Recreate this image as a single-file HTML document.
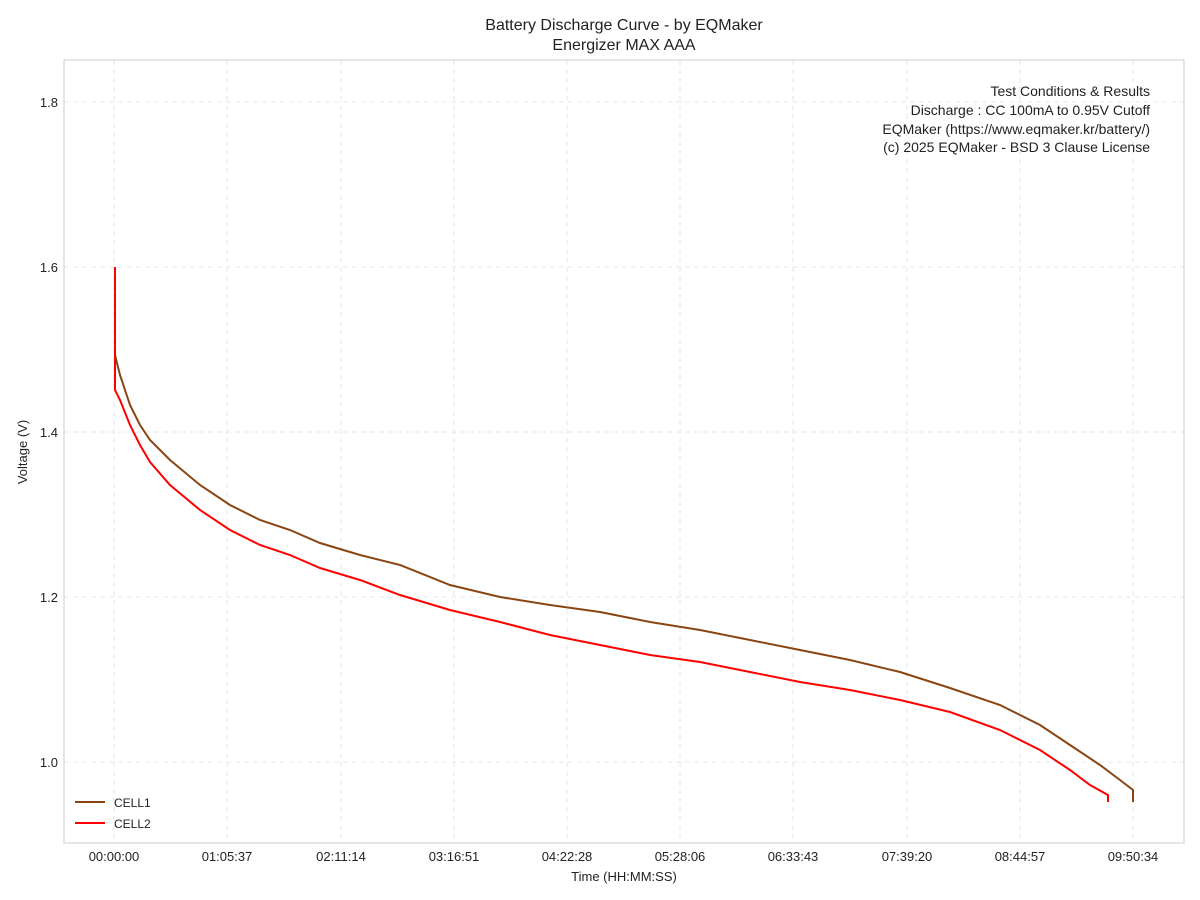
<!DOCTYPE html>
<html><head><meta charset="utf-8"><style>body{margin:0;background:#fff}svg{display:block;font-family:"Liberation Sans",sans-serif}</style></head><body>
<svg width="1200" height="900" xmlns="http://www.w3.org/2000/svg">
<rect width="1200" height="900" fill="#fff"/>
<g stroke="#e0e0e0" stroke-dasharray="5,4" stroke-width="0.8">
<line x1="64" x2="1184" y1="102" y2="102"/><line x1="64" x2="1184" y1="267" y2="267"/><line x1="64" x2="1184" y1="432" y2="432"/><line x1="64" x2="1184" y1="597" y2="597"/><line x1="64" x2="1184" y1="762" y2="762"/>
<line y1="60" y2="843" x1="114" x2="114"/><line y1="60" y2="843" x1="227" x2="227"/><line y1="60" y2="843" x1="341" x2="341"/><line y1="60" y2="843" x1="454" x2="454"/><line y1="60" y2="843" x1="567" x2="567"/><line y1="60" y2="843" x1="680" x2="680"/><line y1="60" y2="843" x1="793" x2="793"/><line y1="60" y2="843" x1="907" x2="907"/><line y1="60" y2="843" x1="1020" x2="1020"/><line y1="60" y2="843" x1="1133" x2="1133"/>
</g>
<rect x="64" y="60" width="1120" height="783" fill="none" stroke="#ccc" stroke-width="1"/>
<g font-size="13" fill="#222" text-anchor="end">
<text x="58" y="107">1.8</text><text x="58" y="272">1.6</text><text x="58" y="437">1.4</text><text x="58" y="602">1.2</text><text x="58" y="767">1.0</text>
</g>
<g font-size="13" fill="#222" text-anchor="middle">
<text x="114" y="861">00:00:00</text><text x="227" y="861">01:05:37</text><text x="341" y="861">02:11:14</text><text x="454" y="861">03:16:51</text><text x="567" y="861">04:22:28</text><text x="680" y="861">05:28:06</text><text x="793" y="861">06:33:43</text><text x="907" y="861">07:39:20</text><text x="1020" y="861">08:44:57</text><text x="1133" y="861">09:50:34</text>
<text x="624" y="881">Time (HH:MM:SS)</text>
<text x="624" y="30" font-size="16">Battery Discharge Curve - by EQMaker</text>
<text x="624" y="50" font-size="16">Energizer MAX AAA</text>
</g>
<text transform="translate(27,452) rotate(-90)" font-size="13" fill="#222" text-anchor="middle">Voltage (V)</text>
<g font-size="14" fill="#222" text-anchor="end">
<text x="1150" y="96">Test Conditions &amp; Results</text>
<text x="1150" y="115">Discharge : CC 100mA to 0.95V Cutoff</text>
<text x="1150" y="134">EQMaker (https://www.eqmaker.kr/battery/)</text>
<text x="1150" y="152">(c) 2025 EQMaker - BSD 3 Clause License</text>
</g>
<polyline fill="none" stroke="#8B4513" stroke-width="2" points="115,355 120,375 130,405 140,425 150,440 170,460 200,485 230,505 260,520 290,530 320,543 360,555 400,565 450,585 500,597 550,605 600,612 650,622 700,630 750,640 800,650 850,660 900,672 950,688 1000,705 1040,725 1070,745 1100,765 1120,780 1133,790 1133,802"/>
<polyline fill="none" stroke="#ff0000" stroke-width="2" points="115,267 115,390 120,400 130,425 140,445 150,462 170,485 200,510 230,530 260,545 290,555 320,568 360,580 400,595 450,610 500,622 550,635 600,645 650,655 700,662 750,672 800,682 850,690 900,700 950,712 1000,730 1040,750 1070,770 1090,785 1108,795 1108,802"/>
<line x1="75" x2="105" y1="802" y2="802" stroke="#8B4513" stroke-width="2"/>
<line x1="75" x2="105" y1="823" y2="823" stroke="#ff0000" stroke-width="2"/>
<text x="114" y="807" font-size="12" fill="#222">CELL1</text>
<text x="114" y="828" font-size="12" fill="#222">CELL2</text>
</svg>
</body></html>
